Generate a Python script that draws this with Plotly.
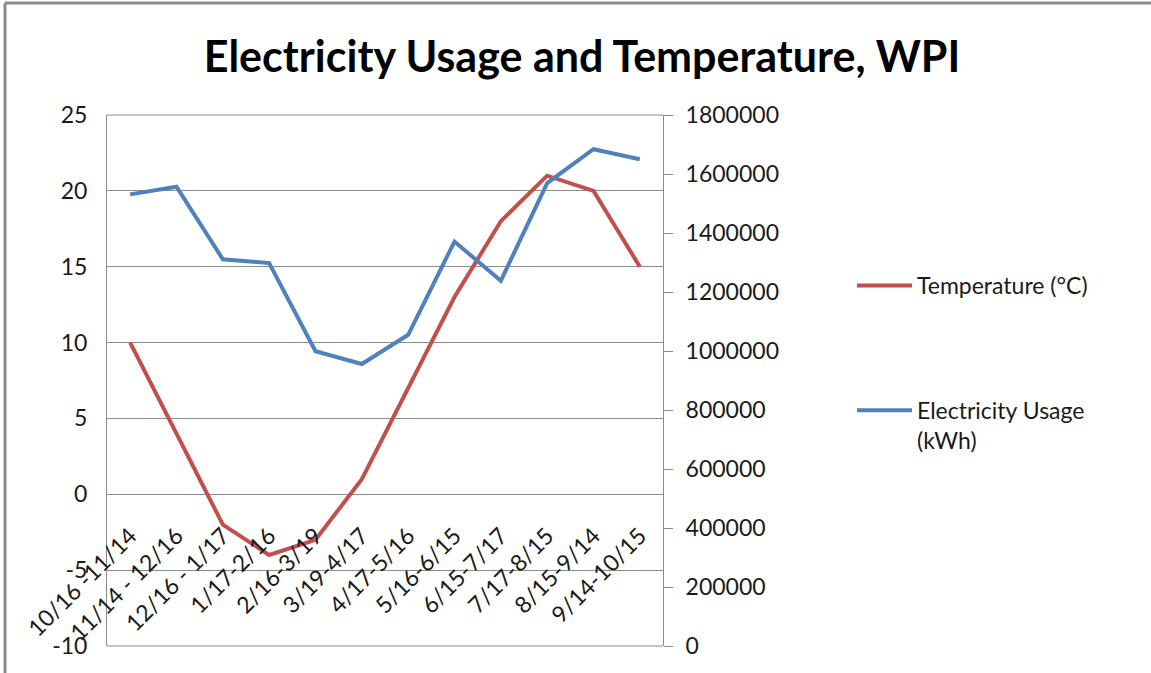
import plotly.graph_objects as go

categories = ["10/16 -11/14", "11/14 - 12/16", "12/16 - 1/17", "1/17-2/16", "2/16-3/19",
              "3/19-4/17", "4/17-5/16", "5/16-6/15", "6/15-7/17", "7/17-8/15",
              "8/15-9/14", "9/14-10/15"]
temperature_c = [10, 4, -2, -4, -3, 1, 7, 13, 18, 21, 20, 15]
electricity_kwh = [1531000, 1557000, 1311000, 1298000, 999000, 956000, 1055000,
                   1371000, 1238000, 1569000, 1684000, 1650000]
temp_ticks = [-10, -5, 0, 5, 10, 15, 20, 25]
temp_tick_labels = ["-10", "-5", "0", "5", "10", "15", "20", "25"]

FONT = "Lato"
TXT = "#1a1a1a"
GRID = "#8a8a8a"

fig = go.Figure()
fig.add_trace(go.Scatter(x=categories, y=temperature_c, mode="lines",
                         name="Temperature (°C)", legendgroup="t",
                         line=dict(color="#C0504D", width=4), yaxis="y"))
fig.add_trace(go.Scatter(x=categories, y=electricity_kwh, mode="lines",
                         name="Electricity Usage<br>(kWh)", legendgroup="e",
                         line=dict(color="#4F81BD", width=4), yaxis="y2"))

W, H = 1151, 673
L, R, T, B = 107, 663, 115, 646

def px(xp):
    return (xp - L) / (R - L)

def py(yp):
    return (B - yp) / (B - T)

fig.update_layout(
    width=W, height=H,
    margin=dict(l=L, r=W - R, t=T, b=H - B, pad=0),
    paper_bgcolor="white", plot_bgcolor="white",
    font=dict(family=FONT, size=23, color=TXT),
    title=dict(text="Electricity Usage and Temperature, WPI",
               font=dict(family=FONT, size=43, color="#000000", weight="bold"),
               x=582 / W, xref="container", xanchor="center",
               y=1 - 57 / H, yref="container", yanchor="middle"),
    xaxis=dict(type="category", anchor="free", position=(-1.5 - (-10)) / 35,
               showline=False, showgrid=False, ticks="", tickangle=-45,
               tickfont=dict(family=FONT, size=23, color=TXT),
               range=[-0.5, 11.5], zeroline=False),
    yaxis=dict(range=[-10, 25], tickmode="array", tickvals=temp_ticks,
               ticktext=temp_tick_labels, showgrid=True, gridcolor=GRID,
               gridwidth=1, showline=True, linecolor=GRID, linewidth=1,
               zeroline=False, ticks="", ticklabelstandoff=14,
               tickfont=dict(family=FONT, size=23, color=TXT)),
    yaxis2=dict(range=[0, 1800000], dtick=200000, tick0=0, overlaying="y", side="right",
                showgrid=False, showline=True, linecolor=GRID, linewidth=1,
                zeroline=False, ticks="outside", ticklen=9, tickcolor=GRID,
                tickformat="d", ticklabelstandoff=8,
                tickfont=dict(family=FONT, size=23, color=TXT)),
    legend=dict(x=px(852), xanchor="left", y=py(264), yanchor="top",
                font=dict(family=FONT, size=23, color=TXT), tracegroupgap=92,
                itemwidth=55, valign="top", bgcolor="rgba(0,0,0,0)"),
    showlegend=True,
)

# plot-area top and bottom edges
for yy in (0, 1):
    fig.add_shape(type="line", xref="paper", yref="paper", x0=0, x1=1, y0=yy, y1=yy,
                  line=dict(color=GRID, width=1), layer="below")

# chart-area frame (top and left edges visible in the reference)
fig.add_shape(type="line", xref="paper", yref="paper",
              x0=px(5), x1=px(1170), y0=py(3), y1=py(3),
              line=dict(color="#8c8c8c", width=3))
fig.add_shape(type="line", xref="paper", yref="paper",
              x0=px(5), x1=px(5), y0=py(3), y1=py(700),
              line=dict(color="#8c8c8c", width=3))

fig.write_html("out.html", config={"displayModeBar": False},
               post_script="document.body.style.margin='0px';")
